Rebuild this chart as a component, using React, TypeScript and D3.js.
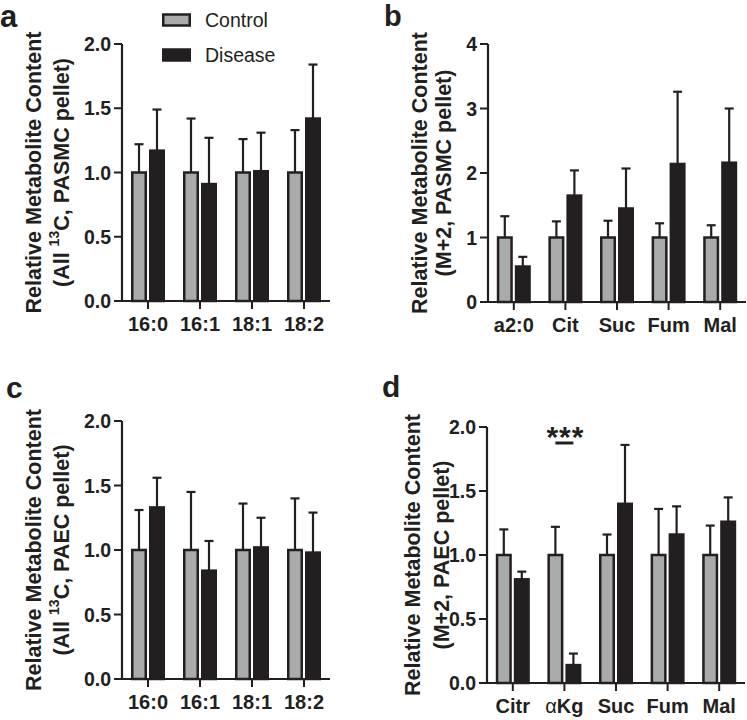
import * as d3 from "d3";

// ---- data ----
const fattyAcids = ["16:0", "16:1", "18:1", "18:2"];
const tcaPasmc = ["a2:0", "Cit", "Suc", "Fum", "Mal"];
const tcaPaec = ["Citr", "αKg", "Suc", "Fum", "Mal"];

// a: PASMC, all 13C
const aControl = [1, 1, 1, 1];
const aControlErr = [0.22, 0.42, 0.26, 0.33];
const aDisease = [1.17, 0.91, 1.01, 1.42];
const aDiseaseErr = [0.32, 0.36, 0.3, 0.42];

// b: PASMC, M+2
const bControl = [1, 1, 1, 1, 1];
const bControlErr = [0.33, 0.25, 0.26, 0.22, 0.19];
const bDisease = [0.55, 1.65, 1.45, 2.14, 2.16];
const bDiseaseErr = [0.15, 0.39, 0.62, 1.12, 0.84];

// c: PAEC, all 13C
const cControl = [1, 1, 1, 1];
const cControlErr = [0.31, 0.45, 0.36, 0.4];
const cDisease = [1.33, 0.84, 1.02, 0.98];
const cDiseaseErr = [0.23, 0.23, 0.23, 0.31];

// d: PAEC, M+2
const dControl = [1, 1, 1, 1, 1];
const dControlErr = [0.2, 0.22, 0.16, 0.36, 0.23];
const dDisease = [0.81, 0.14, 1.4, 1.16, 1.26];
const dDiseaseErr = [0.06, 0.09, 0.46, 0.22, 0.19];
const dSignificance = [{ category: "αKg", label: "***", level: 1.875 }];

const twoTicks = [0, 0.5, 1, 1.5, 2];
const fourTicks = [0, 1, 2, 3, 4];

const FONT = "'Liberation Sans', Arial, Helvetica, sans-serif";
const GREY = "#a9aaac";
const DARK = "#231f20";

type Panel = {
  letter: string;
  letterX: number;
  letterY: number;
  letterSize: number;
  categories: string[];
  control: number[];
  controlErr: number[];
  disease: number[];
  diseaseErr: number[];
  yMax: number;
  ticks: number[];
  fmt: (v: number) => string;
  axisX: number;
  xEnd: number;
  yTop: number;
  y0: number;
  titleOff: [number, number];
  sub: string;
  sup?: boolean;
  sig?: { category: string; label: string; level: number }[];
};

const panels: Panel[] = [
  {
    letter: "a", letterX: 0, letterY: 27, letterSize: 31,
    categories: fattyAcids, control: aControl, controlErr: aControlErr,
    disease: aDisease, diseaseErr: aDiseaseErr,
    yMax: 2, ticks: twoTicks, fmt: d3.format(".1f"),
    axisX: 122, xEnd: 330, yTop: 44, y0: 301,
    titleOff: [88, 60], sub: "PASMC pellet)", sup: true,
  },
  {
    letter: "b", letterX: 384, letterY: 26, letterSize: 29,
    categories: tcaPasmc, control: bControl, controlErr: bControlErr,
    disease: bDisease, diseaseErr: bDiseaseErr,
    yMax: 4, ticks: fourTicks, fmt: d3.format("d"),
    axisX: 488, xEnd: 746, yTop: 44, y0: 302,
    titleOff: [68, 44], sub: "(M+2, PASMC pellet)",
  },
  {
    letter: "c", letterX: 6, letterY: 398, letterSize: 30,
    categories: fattyAcids, control: cControl, controlErr: cControlErr,
    disease: cDisease, diseaseErr: cDiseaseErr,
    yMax: 2, ticks: twoTicks, fmt: d3.format(".1f"),
    axisX: 122, xEnd: 330, yTop: 421, y0: 679,
    titleOff: [88, 60], sub: "PAEC pellet)", sup: true,
  },
  {
    letter: "d", letterX: 382, letterY: 397, letterSize: 30,
    categories: tcaPaec, control: dControl, controlErr: dControlErr,
    disease: dDisease, diseaseErr: dDiseaseErr,
    yMax: 2, ticks: twoTicks, fmt: d3.format(".1f"),
    axisX: 487, xEnd: 745, yTop: 427, y0: 683,
    titleOff: [74, 45], sub: "(M+2, PAEC pellet)",
    sig: dSignificance,
  },
];

const ChartPanel = ({ p }: { p: Panel }) => {
  const x = d3.scaleBand().domain(p.categories).range([p.axisX, p.xEnd]);
  const y = d3.scaleLinear().domain([0, p.yMax]).range([p.y0, p.yTop]);
  const half = x.bandwidth() / 2;
  const barW = 13.5;
  const off = 9;
  const midY = (p.y0 + p.yTop) / 2;

  const series = [
    { vals: p.control, errs: p.controlErr, fill: GREY, dx: -off },
    { vals: p.disease, errs: p.diseaseErr, fill: DARK, dx: off },
  ];

  return (
    <g>
      <text x={p.letterX} y={p.letterY} fontSize={p.letterSize} fontWeight="bold" fill={DARK}>
        {p.letter}
      </text>

      {/* y title */}
      <text
        transform={`translate(${p.axisX - p.titleOff[0]},${midY}) rotate(-90)`}
        textAnchor="middle" dominantBaseline="central"
        fontSize={21.5} fontWeight="bold" fill={DARK}
      >
        Relative Metabolite Content
      </text>
      <text
        transform={`translate(${p.axisX - p.titleOff[1]},${midY}) rotate(-90)`}
        textAnchor="middle" dominantBaseline="central"
        fontSize={21.5} fontWeight="bold" fill={DARK}
      >
        {p.sup ? (
          <>
            (All <tspan fontSize={14} dy={-8}>13</tspan>
            <tspan dy={8}>C, {p.sub}</tspan>
          </>
        ) : (
          p.sub
        )}
      </text>

      {/* bars */}
      {series.map((s, si) =>
        p.categories.map((c, i) => {
          const cx = (x(c) as number) + half + s.dx;
          return (
            <rect
              key={`b${si}-${i}`}
              x={cx - barW / 2}
              y={y(s.vals[i])}
              width={barW}
              height={p.y0 - y(s.vals[i])}
              fill={s.fill}
              stroke={DARK}
              strokeWidth={2.5}
            />
          );
        })
      )}
      {/* error bars */}
      {series.map((s, si) =>
        p.categories.map((c, i) => {
          const cx = (x(c) as number) + half + s.dx;
          const top = y(s.vals[i] + s.errs[i]);
          return (
            <g key={`e${si}-${i}`} stroke={DARK} strokeWidth={2.2}>
              <line x1={cx} x2={cx} y1={y(s.vals[i])} y2={top} />
              <line x1={cx - 4.5} x2={cx + 4.5} y1={top} y2={top} />
            </g>
          );
        })
      )}

      {/* y axis */}
      <line x1={p.axisX} x2={p.axisX} y1={p.y0 + 1} y2={y(p.yMax)} stroke={DARK} strokeWidth={2.2} />
      {p.ticks.map((t) => (
        <g key={`yt${t}`}>
          <line x1={p.axisX - 8} x2={p.axisX} y1={y(t)} y2={y(t)} stroke={DARK} strokeWidth={2} />
          <text
            x={p.axisX - 11} y={y(t)} dy="0.36em" textAnchor="end"
            fontSize={19.5} fontWeight="bold" fill={DARK}
          >
            {p.fmt(t)}
          </text>
        </g>
      ))}

      {/* x axis */}
      <line x1={p.axisX - 1} x2={p.xEnd} y1={p.y0} y2={p.y0} stroke={DARK} strokeWidth={2.2} />
      {p.categories.map((c) => {
        const cx = (x(c) as number) + half;
        return (
          <g key={`xt${c}`}>
            <line x1={cx} x2={cx} y1={p.y0} y2={p.y0 + 8} stroke={DARK} strokeWidth={2} />
            <text x={cx} y={p.y0 + 30} textAnchor="middle" fontSize={20} fontWeight="bold" fill={DARK}>
              {c.startsWith("α") ? (
                <>
                  <tspan fontWeight="normal">α</tspan>
                  {c.slice(1)}
                </>
              ) : (
                c
              )}
            </text>
          </g>
        );
      })}

      {/* significance */}
      {(p.sig || []).map((s) => {
        const cx = (x(s.category) as number) + half;
        return (
          <g key={`s${s.category}`}>
            <line x1={cx - off} x2={cx + off} y1={y(s.level)} y2={y(s.level)} stroke={DARK} strokeWidth={3} />
            <text
              x={cx + 1} y={y(s.level) + 4} textAnchor="middle" letterSpacing={1}
              fontSize={30} fontWeight="bold" fill={DARK}
            >
              {s.label}
            </text>
          </g>
        );
      })}
    </g>
  );
};

const legendItems = [
  { label: "Control", fill: GREY },
  { label: "Disease", fill: DARK },
];

export default function App() {
  const legendY = d3.scalePoint<string>().domain(legendItems.map((d) => d.label)).range([20, 55]);
  return (
    <div style={{ position: "absolute", left: 0, top: 0 }}>
      <svg width={747} height={720} style={{ display: "block", fontFamily: FONT, background: "#fff" }}>
        {panels.map((p) => (
          <ChartPanel key={p.letter} p={p} />
        ))}
        {legendItems.map((l) => (
          <g key={l.label}>
            <rect
              x={163.25} y={(legendY(l.label) as number) - 5.5} width={26.5} height={11}
              fill={l.fill} stroke={DARK} strokeWidth={2.5}
            />
            <text x={205} y={(legendY(l.label) as number) + 7} fontSize={19.5} fill={DARK}>
              {l.label}
            </text>
          </g>
        ))}
      </svg>
    </div>
  );
}
